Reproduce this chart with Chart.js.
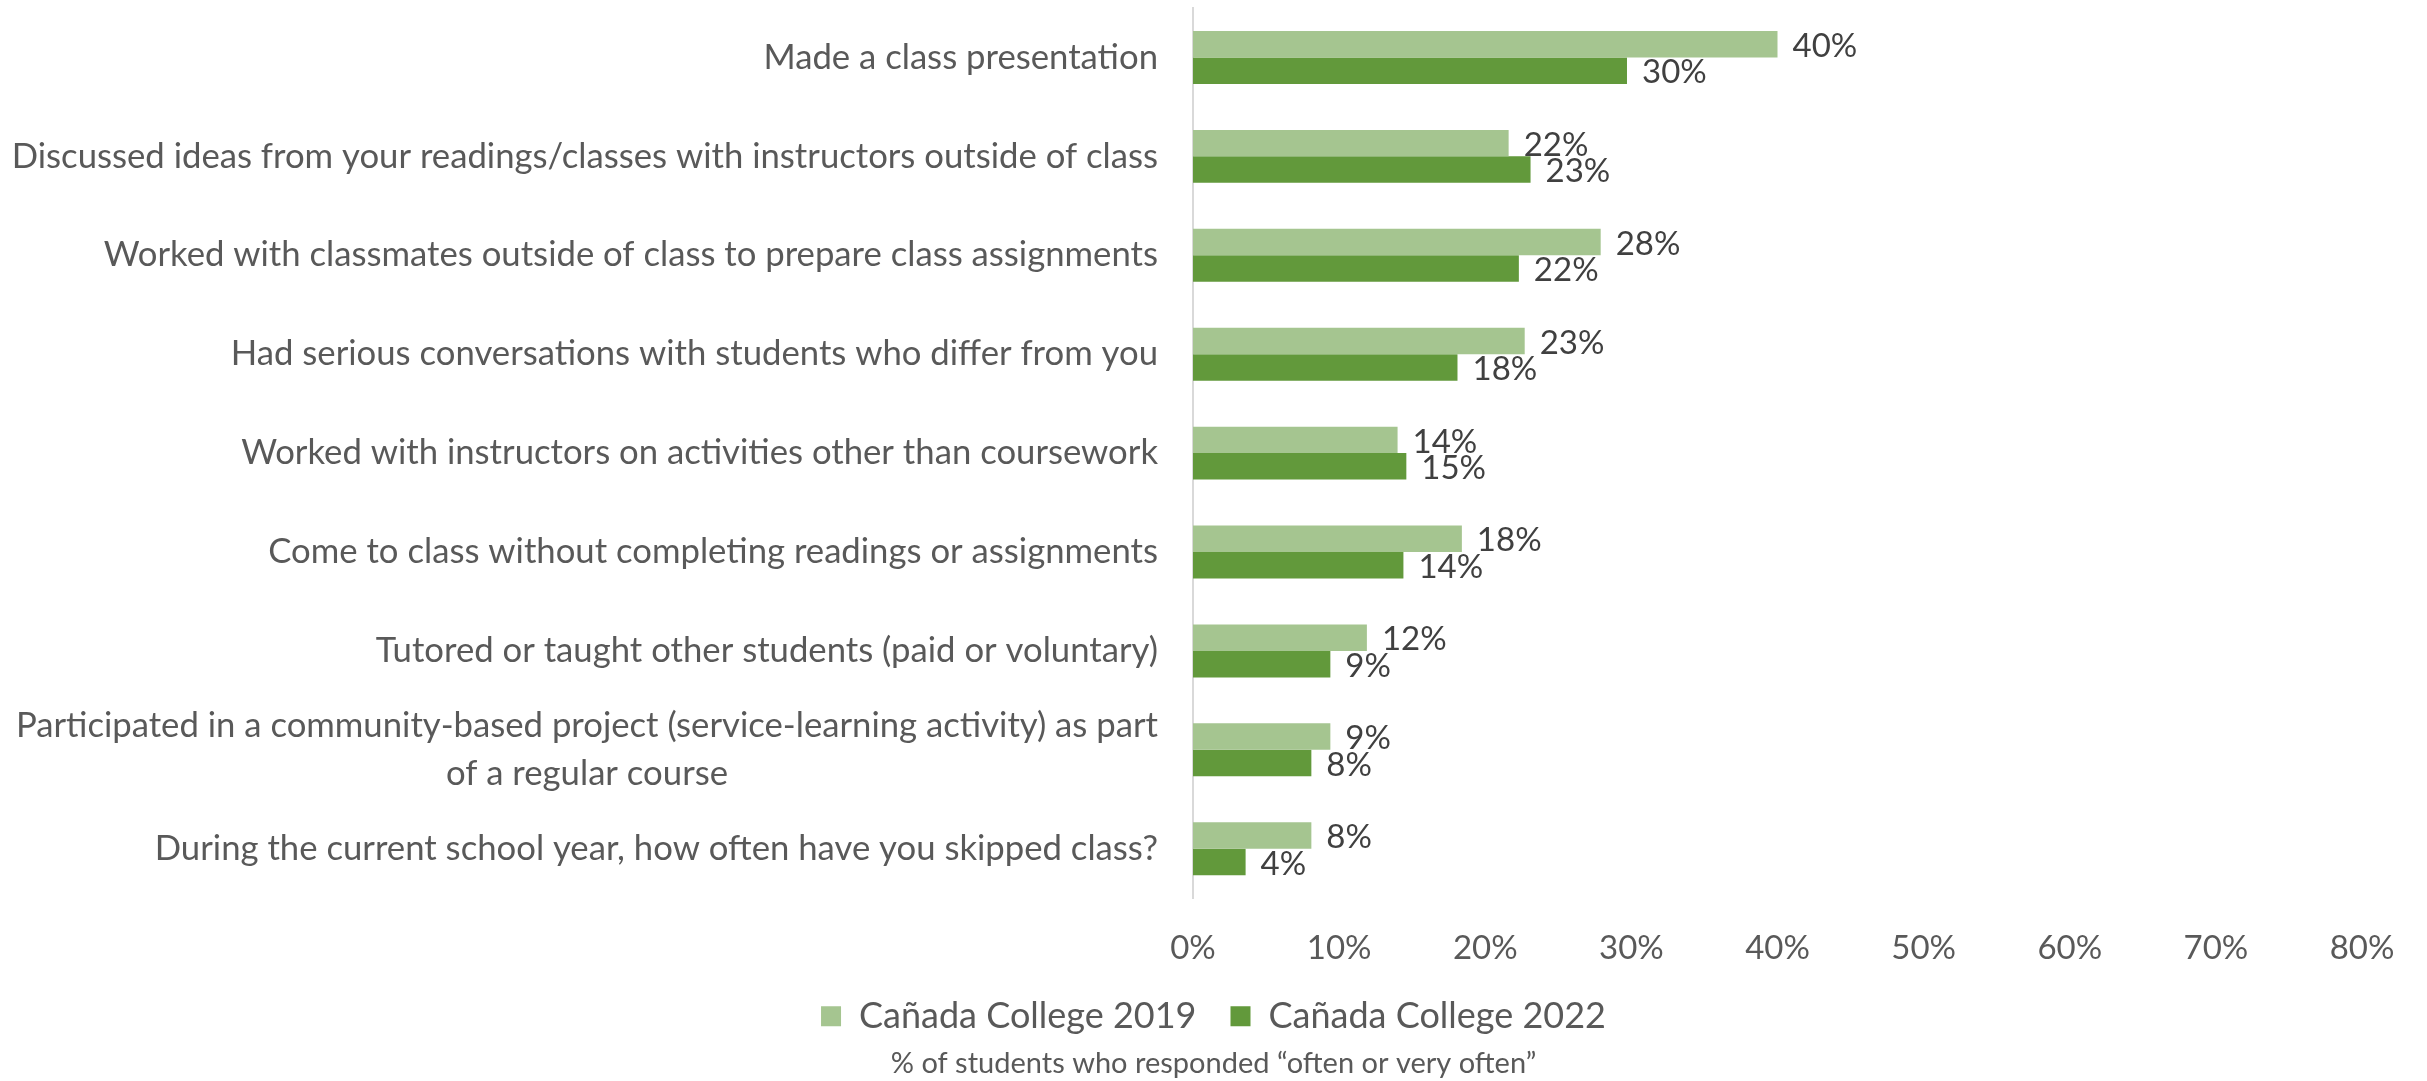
<!DOCTYPE html>
<html>
<head>
<meta charset="utf-8">
<script src="https://cdn.jsdelivr.net/npm/chart.js@4.4.1/dist/chart.umd.min.js"></script>
<style>
    html, body { margin: 0; padding: 0; background: #ffffff; }
    #wrap { width: 2427px; height: 1081px; }
</style>
</head>
<body>
<div id="wrap"><canvas id="surveyChart" width="2427" height="1081"></canvas></div>
<script>
"use strict";

// Survey items, top to bottom
var categories = [
    'Made a class presentation',
    'Discussed ideas from your readings/classes with instructors outside of class',
    'Worked with classmates outside of class to prepare class assignments',
    'Had serious conversations with students who differ from you',
    'Worked with instructors on activities other than coursework',
    'Come to class without completing readings or assignments',
    'Tutored or taught other students (paid or voluntary)',
    ['Participated in a community-based project (service-learning activity) as part', 'of a regular course'],
    'During the current school year, how often have you skipped class?'
];

// % of students who responded "often or very often"
var values2019 = [40.0, 21.6, 27.9, 22.7, 14.0, 18.4, 11.9, 9.4, 8.1];
var values2022 = [29.7, 23.1, 22.3, 18.1, 14.6, 14.4, 9.4, 8.1, 3.6];

var seriesNames = ['Cañada College 2019', 'Cañada College 2022'];
var tickValues = [0, 10, 20, 30, 40, 50, 60, 70, 80];

var FONT = 'Lato';
var TEXT_GREY = '#595959';

// Category labels drawn right-aligned, wrapped lines centred like Excel does
var categoryLabelPlugin = {
    id: 'categoryLabels',
    afterDraw: function (chart) {
        var ctx = chart.ctx;
        var yScale = chart.scales.y;
        var right = yScale.right - 35;
        var lineH = 48;
        ctx.save();
        ctx.font = '34.7px ' + FONT;
        ctx.fillStyle = TEXT_GREY;
        ctx.textAlign = 'center';
        ctx.textBaseline = 'middle';
        categories.forEach(function (label, i) {
            var lines = Array.isArray(label) ? label : [label];
            var maxW = Math.max.apply(null, lines.map(function (l) {
                return ctx.measureText(l).width;
            }));
            var y0 = yScale.getPixelForTick(i) - (lines.length - 1) * lineH / 2;
            lines.forEach(function (line, j) {
                ctx.fillText(line, right - maxW / 2, y0 + j * lineH);
            });
        });
        ctx.restore();
    }
};

// Value labels at the end of each bar
var valueLabelPlugin = {
    id: 'valueLabels',
    afterDatasetsDraw: function (chart) {
        var ctx = chart.ctx;
        ctx.save();
        ctx.font = '33px ' + FONT;
        ctx.fillStyle = '#404040';
        ctx.textAlign = 'left';
        ctx.textBaseline = 'middle';
        chart.data.datasets.forEach(function (ds, di) {
            chart.getDatasetMeta(di).data.forEach(function (bar, i) {
                ctx.fillText(Math.round(ds.data[i]) + '%', bar.x + 15, bar.y + 2);
            });
        });
        ctx.restore();
    }
};

var ctx = document.getElementById('surveyChart');

new Chart(ctx, {
    type: 'bar',
    data: {
        labels: categories,
        datasets: [{
            label: seriesNames[0],
            data: values2019,
            backgroundColor: '#a5c590',
            borderWidth: 0,
            barPercentage: 1,
            categoryPercentage: 0.535
        }, {
            label: seriesNames[1],
            data: values2022,
            backgroundColor: '#62993b',
            borderWidth: 0,
            barPercentage: 1,
            categoryPercentage: 0.535
        }]
    },
    options: {
        indexAxis: 'y',
        responsive: false,
        devicePixelRatio: 1,
        animation: false,
        layout: {
            padding: { top: 8, right: 0, left: 0, bottom: 0 }
        },
        scales: {
            x: {
                min: 0,
                max: 80,
                afterBuildTicks: function (scale) {
                    scale.ticks = tickValues.map(function (v) { return { value: v }; });
                },
                afterFit: function (scale) {
                    scale.height = 66;
                    scale.paddingLeft = 0;
                    scale.paddingRight = 65;
                },
                grid: { display: false, drawTicks: false },
                border: { display: false },
                ticks: {
                    padding: 30,
                    maxRotation: 0,
                    color: TEXT_GREY,
                    font: { family: FONT, size: 33 },
                    callback: function (v) { return v + '%'; }
                }
            },
            y: {
                afterFit: function (scale) {
                    scale.width = 1193;
                },
                grid: { display: false, drawTicks: false },
                border: { display: true, color: '#d9d9d9', width: 2 },
                ticks: { display: false }
            }
        },
        plugins: {
            legend: {
                position: 'bottom',
                labels: {
                    boxWidth: 20,
                    boxHeight: 20,
                    padding: 34,
                    color: TEXT_GREY,
                    font: { family: FONT, size: 36 }
                }
            },
            title: {
                display: true,
                position: 'bottom',
                text: '% of students who responded \u201coften or very often\u201d',
                color: TEXT_GREY,
                font: { family: FONT, size: 29, weight: 'normal' },
                padding: { top: 2, bottom: 0 }
            },
            tooltip: { enabled: false }
        }
    },
    plugins: [categoryLabelPlugin, valueLabelPlugin]
});
</script>
</body>
</html>
